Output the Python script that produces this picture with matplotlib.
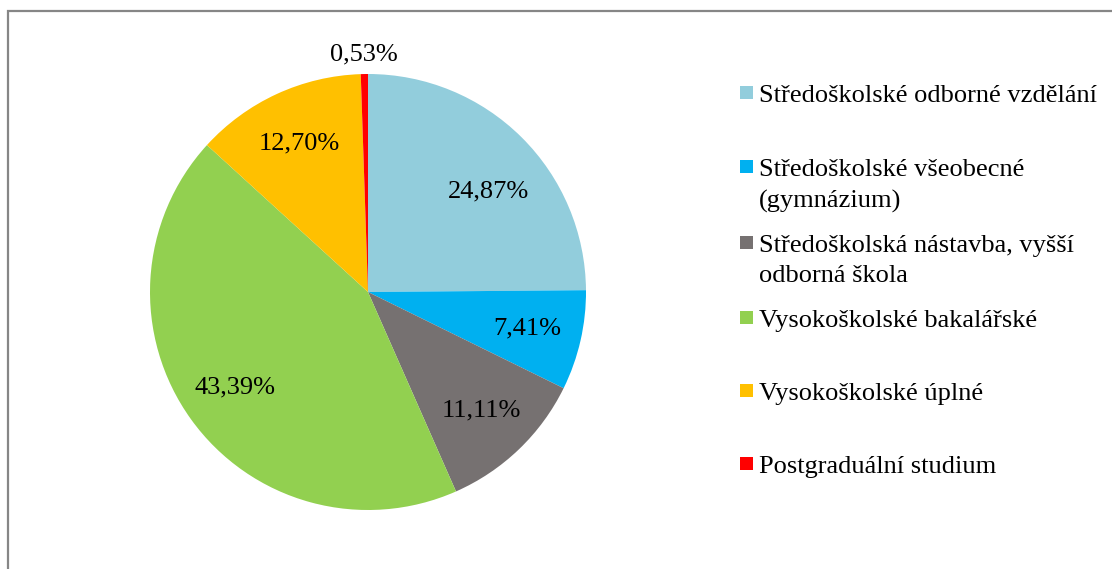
import matplotlib
matplotlib.use("Agg")
import matplotlib.pyplot as plt
from matplotlib.patches import Rectangle
import numpy as np

categories = [
    "Středoškolské odborné vzdělání",
    "Středoškolské všeobecné\n(gymnázium)",
    "Středoškolská nástavba, vyšší\nodborná škola",
    "Vysokoškolské bakalářské",
    "Vysokoškolské úplné",
    "Postgraduální studium",
]
shares = [24.87, 7.41, 11.11, 43.39, 12.70, 0.53]
colors = ["#92CDDC", "#00B0F0", "#767171", "#92D050", "#FFC000", "#FF0000"]

plt.rcParams["font.family"] = ["Liberation Serif", "DejaVu Serif"]
FS = 19

W, H = 1112, 569
fig = plt.figure(figsize=(W / 100, H / 100), dpi=100)

# outer chart border (right/bottom edges fall outside the image)
fig.patches.append(Rectangle((7.5 / W, -0.1), 1.2, 1 - 10.5 / H + 0.1,
                             transform=fig.transFigure, fill=False,
                             edgecolor="#868686", linewidth=1.6))

cx, cy, r = 368, 292, 218
ax = fig.add_axes([(cx - r) / W, 1 - (cy + r) / H, 2 * r / W, 2 * r / H])
wedges, _ = ax.pie(shares, colors=colors, startangle=90, counterclock=False,
                   radius=1, wedgeprops=dict(linewidth=0))
ax.set_xlim(-1, 1)
ax.set_ylim(-1, 1)
ax.set_aspect("equal")
ax.axis("off")

# data labels: inside for big slices, just outside for the tiny one
for i, (w, val) in enumerate(zip(wedges, shares)):
    ang = (w.theta1 + w.theta2) / 2
    dist = 0.75
    if val < 2:
        dist = 1.09
    elif i == 0:
        ang, dist = ang - 5.5, 0.72
    mid = np.deg2rad(ang)
    ax.text(dist * np.cos(mid), dist * np.sin(mid),
            f"{val:.2f}%".replace(".", ","), ha="center", va="center",
            fontsize=FS, clip_on=False)

# legend drawn by hand to match the spacing of the original
first_line_y = [92, 166, 242, 317, 390, 463]
for lab, col, y in zip(categories, colors, first_line_y):
    fig.patches.append(Rectangle((740 / W, 1 - (y + 7) / H), 13 / W, 13 / H,
                                 transform=fig.transFigure, facecolor=col,
                                 edgecolor="none"))
    fig.text(759 / W, 1 - (y - 7) / H, lab, ha="left", va="top",
             fontsize=FS, linespacing=1.5)

fig.savefig("out.png", dpi=100)
